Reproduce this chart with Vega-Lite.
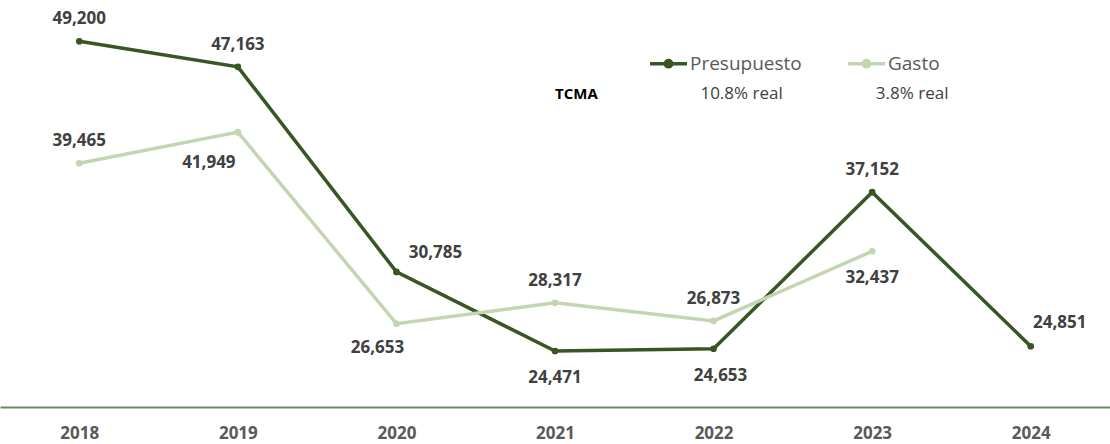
{
  "$schema": "https://vega.github.io/schema/vega-lite/v6.json",
  "width": 1110,
  "height": 407,
  "padding": {"top": 0, "left": 0, "right": 0, "bottom": 37},
  "autosize": {"type": "none"},
  "background": "white",
  "config": {"view": {"stroke": null}},
  "datasets": {
    "main": [
      {"year": "2018", "series": "Presupuesto", "value": 49200},
      {"year": "2019", "series": "Presupuesto", "value": 47163},
      {"year": "2020", "series": "Presupuesto", "value": 30785},
      {"year": "2021", "series": "Presupuesto", "value": 24471},
      {"year": "2022", "series": "Presupuesto", "value": 24653},
      {"year": "2023", "series": "Presupuesto", "value": 37152},
      {"year": "2024", "series": "Presupuesto", "value": 24851},
      {"year": "2018", "series": "Gasto", "value": 39465},
      {"year": "2019", "series": "Gasto", "value": 41949},
      {"year": "2020", "series": "Gasto", "value": 26653},
      {"year": "2021", "series": "Gasto", "value": 28317},
      {"year": "2022", "series": "Gasto", "value": 26873},
      {"year": "2023", "series": "Gasto", "value": 32437}
    ],
    "tcma": [
      {"year": "2021", "label": "TCMA"},
      {"year": "2022", "label": "10.8% real"},
      {"year": "2023", "label": "3.8% real"}
    ]
  },
  "encoding": {
    "x": {
      "field": "year", "type": "ordinal",
      "scale": {"type": "point", "padding": 0.5},
      "axis": {
        "title": null, "labelAngle": 0, "ticks": false, "tickSize": 0,
        "domainColor": "#6f8a58", "domainWidth": 2,
        "labelFont": "Open Sans", "labelFontWeight": "bold", "labelFontSize": 17,
        "labelColor": "#595959", "labelPadding": 26, "labelBaseline": "middle"
      }
    }
  },
  "layer": [
    {
      "data": {"name": "main"},
      "mark": {"type": "line", "strokeWidth": 3.5},
      "encoding": {
        "y": {"field": "value", "type": "quantitative", "scale": {"domain": [20000, 52500], "nice": false, "zero": false}, "axis": null},
        "color": {
          "field": "series", "type": "nominal",
          "scale": {"domain": ["Presupuesto", "Gasto"], "range": ["#375623", "#c4d5b2"]},
          "legend": {
            "title": null, "orient": "none", "direction": "horizontal",
            "legendX": 648, "legendY": 43, "padding": 0,
            "symbolType": "M-1,0H1M0.17,0A0.17,0.17,0,1,1,-0.17,0A0.17,0.17,0,1,1,0.17,0Z",
            "symbolSize": 1369, "symbolStrokeWidth": 3.5,
            "labelFont": "Open Sans", "labelFontSize": 19, "labelColor": "#595959",
            "labelOffset": 1, "columnPadding": 39
          }
        }
      }
    },
    {
      "data": {"name": "main"},
      "mark": {"type": "point", "filled": true, "opacity": 1, "size": 45},
      "encoding": {
        "y": {"field": "value", "type": "quantitative"},
        "color": {"field": "series", "type": "nominal"}
      }
    },
    {
      "data": {"name": "main"},
      "transform": [{"filter": "indexof(['P2018','P2019','P2023','G2018','G2021','G2022'], slice(datum.series,0,1)+datum.year) >= 0"}],
      "mark": {"type": "text", "dy": -22, "font": "Open Sans", "fontWeight": "bold", "fontSize": 17, "color": "#404040", "baseline": "middle"},
      "encoding": {"y": {"field": "value", "type": "quantitative"}, "text": {"field": "value", "type": "quantitative", "format": ","}}
    },
    {
      "data": {"name": "main"},
      "transform": [{"filter": "indexof(['P2021','G2023'], slice(datum.series,0,1)+datum.year) >= 0"}],
      "mark": {"type": "text", "dy": 27, "font": "Open Sans", "fontWeight": "bold", "fontSize": 17, "color": "#404040", "baseline": "middle"},
      "encoding": {"y": {"field": "value", "type": "quantitative"}, "text": {"field": "value", "type": "quantitative", "format": ","}}
    },
    {
      "data": {"name": "main"},
      "transform": [{"filter": "slice(datum.series,0,1)+datum.year == 'P2022'"}],
      "mark": {"type": "text", "dx": 7, "dy": 27, "font": "Open Sans", "fontWeight": "bold", "fontSize": 17, "color": "#404040", "baseline": "middle"},
      "encoding": {"y": {"field": "value", "type": "quantitative"}, "text": {"field": "value", "type": "quantitative", "format": ","}}
    },
    {
      "data": {"name": "main"},
      "transform": [{"filter": "slice(datum.series,0,1)+datum.year == 'G2020'"}],
      "mark": {"type": "text", "dx": -19, "dy": 24, "font": "Open Sans", "fontWeight": "bold", "fontSize": 17, "color": "#404040", "baseline": "middle"},
      "encoding": {"y": {"field": "value", "type": "quantitative"}, "text": {"field": "value", "type": "quantitative", "format": ","}}
    },
    {
      "data": {"name": "main"},
      "transform": [{"filter": "slice(datum.series,0,1)+datum.year == 'G2019'"}],
      "mark": {"type": "text", "dx": -29, "dy": 31, "font": "Open Sans", "fontWeight": "bold", "fontSize": 17, "color": "#404040", "baseline": "middle"},
      "encoding": {"y": {"field": "value", "type": "quantitative"}, "text": {"field": "value", "type": "quantitative", "format": ","}}
    },
    {
      "data": {"name": "main"},
      "transform": [{"filter": "slice(datum.series,0,1)+datum.year == 'P2020'"}],
      "mark": {"type": "text", "dx": 39, "dy": -19, "font": "Open Sans", "fontWeight": "bold", "fontSize": 17, "color": "#404040", "baseline": "middle"},
      "encoding": {"y": {"field": "value", "type": "quantitative"}, "text": {"field": "value", "type": "quantitative", "format": ","}}
    },
    {
      "data": {"name": "main"},
      "transform": [{"filter": "slice(datum.series,0,1)+datum.year == 'P2024'"}],
      "mark": {"type": "text", "dx": 29, "dy": -23, "font": "Open Sans", "fontWeight": "bold", "fontSize": 17, "color": "#404040", "baseline": "middle"},
      "encoding": {"y": {"field": "value", "type": "quantitative"}, "text": {"field": "value", "type": "quantitative", "format": ","}}
    },
    {
      "data": {"name": "tcma"},
      "transform": [{"filter": "datum.label == 'TCMA'"}],
      "mark": {"type": "text", "align": "left", "baseline": "middle", "font": "Open Sans", "fontWeight": "bold", "fontSize": 15, "color": "#000000"},
      "encoding": {"y": {"datum": 45000, "type": "quantitative"}, "text": {"field": "label"}}
    },
    {
      "data": {"name": "tcma"},
      "transform": [{"filter": "datum.label == '10.8% real'"}],
      "mark": {"type": "text", "align": "center", "dx": 28, "baseline": "middle", "font": "Open Sans", "fontSize": 17, "color": "#404040"},
      "encoding": {"y": {"datum": 45000, "type": "quantitative"}, "text": {"field": "label"}}
    },
    {
      "data": {"name": "tcma"},
      "transform": [{"filter": "datum.label == '3.8% real'"}],
      "mark": {"type": "text", "align": "center", "dx": 40, "baseline": "middle", "font": "Open Sans", "fontSize": 17, "color": "#404040"},
      "encoding": {"y": {"datum": 45000, "type": "quantitative"}, "text": {"field": "label"}}
    }
  ]
}
